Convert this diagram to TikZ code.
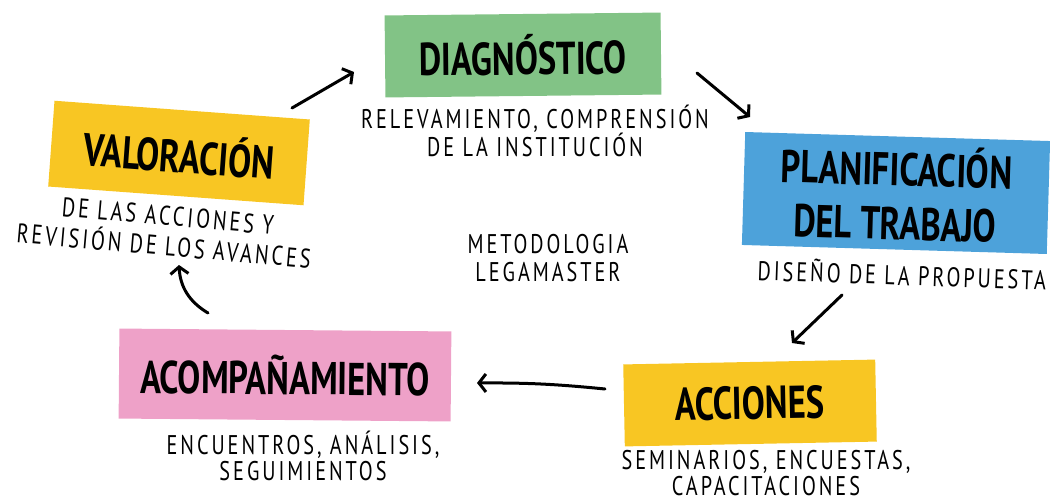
\documentclass[tikz,border=0pt]{standalone}
\usepackage{fontspec}
\setmainfont[FakeStretch=0.75]{PT Sans}
\newfontfamily\subfont[FakeStretch=0.75,LetterSpace=11]{PT Sans}
\usetikzlibrary{arrows.meta}

\definecolor{notegreen}{HTML}{82C386}
\definecolor{noteblue}{HTML}{4DA2DA}
\definecolor{noteyellow}{HTML}{F8C623}
\definecolor{notepink}{HTML}{EEA1C8}

\tikzset{
  note/.style={inner sep=0pt, align=center, font=\fontsize{46}{54}\selectfont\bfseries},
  sub/.style={inner sep=0pt, align=center, font=\subfont\fontsize{27}{26}\selectfont},
  flow/.style={line width=3pt, line cap=round, -{Straight Barb[length=7pt,width=18pt]}}
}

\begin{document}
\begin{tikzpicture}[x=1pt,y=-1pt]
    \useasboundingbox (0,0) rectangle (1050,503);
    % sticky notes
    \node[note, fill=notegreen, minimum width=276, minimum height=82, rotate=0.6] (diag) at (523,55) {DIAGNÓSTICO};
    \node[note, fill=noteblue, minimum width=305, minimum height=113, rotate=-1.7] (plan) at (896,193) {PLANIFICACIÓN\\DEL TRABAJO};
    \node[note, fill=noteyellow, minimum width=252, minimum height=82, rotate=1.1] (acc) at (750,403) {ACCIONES};
    \node[note, fill=notepink, minimum width=332, minimum height=90, rotate=-0.5] (acomp) at (285,375) {ACOMPAÑAMIENTO};
    \node[note, fill=noteyellow, minimum width=256, minimum height=86, rotate=-4.2] (valor) at (179,153) {VALORACIÓN};

    % what each step means
    \node[sub] (diagtxt) at (535,131) {RELEVAMIENTO, COMPRENSIÓN\\DE LA INSTITUCIÓN};
    \node[sub, rotate=-2] (plantxt) at (902,274) {DISEÑO DE LA PROPUESTA};
    \node[sub] (acctxt) at (766,473) {SEMINARIOS, ENCUESTAS,\\CAPACITACIONES};
    \node[sub] (acomptxt) at (303,456) {ENCUENTROS, ANÁLISIS,\\SEGUIMIENTOS};
    \node[sub, rotate=-5] (valortxta) at (168,216) {DE LAS ACCIONES Y};
    \node[sub, rotate=-5] (valortxtb) at (164,244) {REVISIÓN DE LOS AVANCES};
    \node[sub, font=\subfont\fontsize{27}{28}\selectfont] (metodo) at (548,258) {METODOLOGIA\\LEGAMASTER};

    % arrow ends
    \coordinate (valorout) at (292,108);
    \coordinate (diagin) at (354,72);
    \coordinate (diagout) at (697,73);
    \coordinate (planin) at (750,117);
    \coordinate (planout) at (842,295);
    \coordinate (accin) at (792,343);
    \coordinate (accout) at (605,389);
    \coordinate (acompin) at (477,383);
    \coordinate (acompout) at (208,313);
    \coordinate (valorin) at (179,265);

    \draw[flow] (valorout) -- (diagin);
    \draw[flow] (diagout) -- (planin);
    \draw[flow] (planout) -- (accin);
    \draw[flow] (accout) to[bend right=3] (acompin);
    \draw[flow] (acompout) to[bend left=28] (valorin);
\end{tikzpicture}
\end{document}
